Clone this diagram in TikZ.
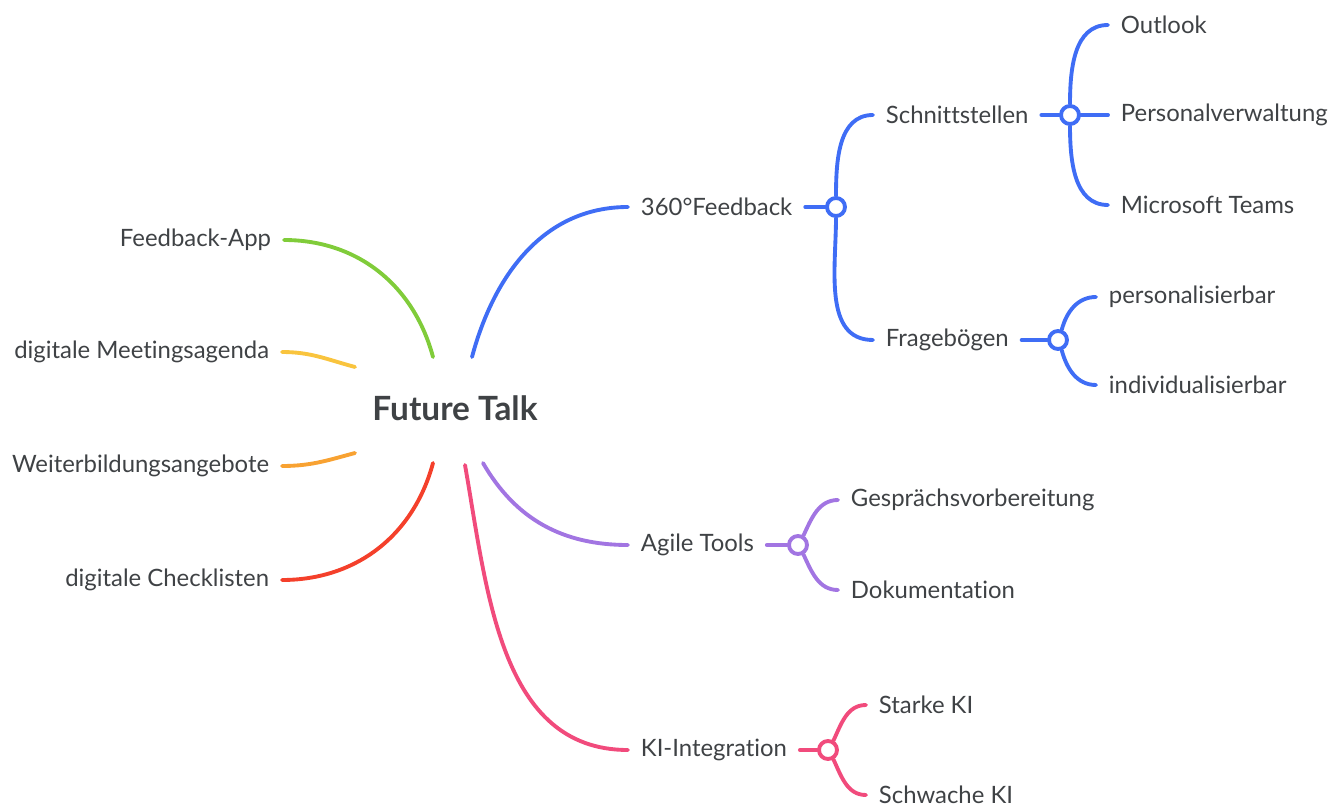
\documentclass[tikz,border=0pt]{standalone}
\usepackage{fontspec}
\setmainfont{Lato}[Ligatures=NoCommon]
\usetikzlibrary{positioning}
\definecolor{txt}{HTML}{3F4245}
\definecolor{cblue}{HTML}{3F6DF5}
\definecolor{cgreen}{HTML}{80CC3A}
\definecolor{cyellow}{HTML}{F9C43E}
\definecolor{corange}{HTML}{F8A232}
\definecolor{cred}{HTML}{F4402B}
\definecolor{cpurple}{HTML}{A275E2}
\definecolor{cpink}{HTML}{F14B7C}
\tikzset{
    mind/.style={x=0.02cm,y=0.02cm,line width=2.2pt,line cap=round},
    root/.style={text=txt,font=\fontsize{19}{22}\selectfont\bfseries},
    topic/.style={text=txt,font=\fontsize{13.6}{16}\selectfont,inner xsep=0.22cm,inner ysep=2pt},
    hub/.style={circle,draw,fill=white,minimum size=0.36cm,inner sep=0pt},
    }
\begin{document}
\begin{tikzpicture}[mind]
    \useasboundingbox (0,0) rectangle (1341,809);
    \node[root] (ft) at (455,401) {Future Talk};

    % start points round the root
    \coordinate (sblue) at (472,452);
    \coordinate (sgreen) at (433,452);
    \coordinate (syellow) at (355,442);
    \coordinate (sorange) at (355,356);
    \coordinate (sred) at (433,346);
    \coordinate (spink) at (465,344);
    \coordinate (spurple) at (483,346);

    % left side
    \node[topic,anchor=east] (app) at (284,569) {Feedback-App};
    \node[topic,anchor=east] (agenda) at (282,457) {digitale Meetingsagenda};
    \node[topic,anchor=east] (wb) at (282,343) {Weiterbildungsangebote};
    \node[topic,anchor=east] (check) at (282,229) {digitale Checklisten};

    \path[draw=cgreen] (sgreen) edge[out=105, in=0] (app.east);
    \path[draw=cyellow] (syellow) edge[out=165, in=0] (agenda.east);
    \path[draw=corange] (sorange) edge[out=195, in=0] (wb.east);
    \path[draw=cred] (sred) edge[out=255, in=0] (check.east);

    % 360 feedback
    \node[topic,anchor=west] (fb) at (628,602) {360°Feedback};
    \node[hub,draw=cblue] (h1) at (836,602) {};
    \node[topic,anchor=west] (sst) at (873,694) {Schnittstellen};
    \node[topic,anchor=west] (frb) at (873,469) {Fragebögen};
    \node[hub,draw=cblue] (h2) at (1070,694) {};
    \node[topic,anchor=west] (ol) at (1108,784) {Outlook};
    \node[topic,anchor=west] (pv) at (1108,694) {Personalverwaltung};
    \node[topic,anchor=west] (mt) at (1108,604) {Microsoft Teams};
    \node[hub,draw=cblue] (h3) at (1058,469) {};
    \node[topic,anchor=west] (pers) at (1096,512) {personalisierbar};
    \node[topic,anchor=west] (ind) at (1096,424) {individualisierbar};

    \path[draw=cblue] (sblue) edge[out=75, in=180] (fb.west);
    \path[draw=cblue] (fb.east) edge (h1.west);
    \path[draw=cblue] (h1.north) edge[out=90, in=180] (sst.west);
    \path[draw=cblue] (h1.south) edge[out=270, in=180] (frb.west);
    \path[draw=cblue] (sst.east) edge (h2.west);
    \path[draw=cblue] (h2.north) edge[out=90, in=180] (ol.west);
    \path[draw=cblue] (h2.east) edge (pv.west);
    \path[draw=cblue] (h2.south) edge[out=270, in=180] (mt.west);
    \path[draw=cblue] (frb.east) edge (h3.west);
    \path[draw=cblue] (h3.70) edge[out=75, in=180] (pers.west);
    \path[draw=cblue] (h3.-70) edge[out=-75, in=180] (ind.west);

    % agile tools
    \node[topic,anchor=west] (agile) at (628,264) {Agile Tools};
    \node[hub,draw=cpurple] (h4) at (798,264) {};
    \node[topic,anchor=west] (gv) at (838,309) {Gesprächsvorbereitung};
    \node[topic,anchor=west] (doku) at (838,219) {Dokumentation};

    \path[draw=cpurple] (spurple) edge[out=-60, in=180] (agile.west);
    \path[draw=cpurple] (agile.east) edge (h4.west);
    \path[draw=cpurple] (h4.60) edge[out=65, in=180] (gv.west);
    \path[draw=cpurple] (h4.-60) edge[out=-65, in=180] (doku.west);

    % KI
    \node[topic,anchor=west] (ki) at (628,59) {KI-Integration};
    \node[hub,draw=cpink] (h5) at (828,59) {};
    \node[topic,anchor=west] (stark) at (866,104) {Starke KI};
    \node[topic,anchor=west] (schwach) at (866,14) {Schwache KI};

    \path[draw=cpink] (spink) edge[out=-80, in=180] (ki.west);
    \path[draw=cpink] (ki.east) edge (h5.west);
    \path[draw=cpink] (h5.60) edge[out=65, in=180] (stark.west);
    \path[draw=cpink] (h5.-60) edge[out=-65, in=180] (schwach.west);
\end{tikzpicture}
\end{document}
